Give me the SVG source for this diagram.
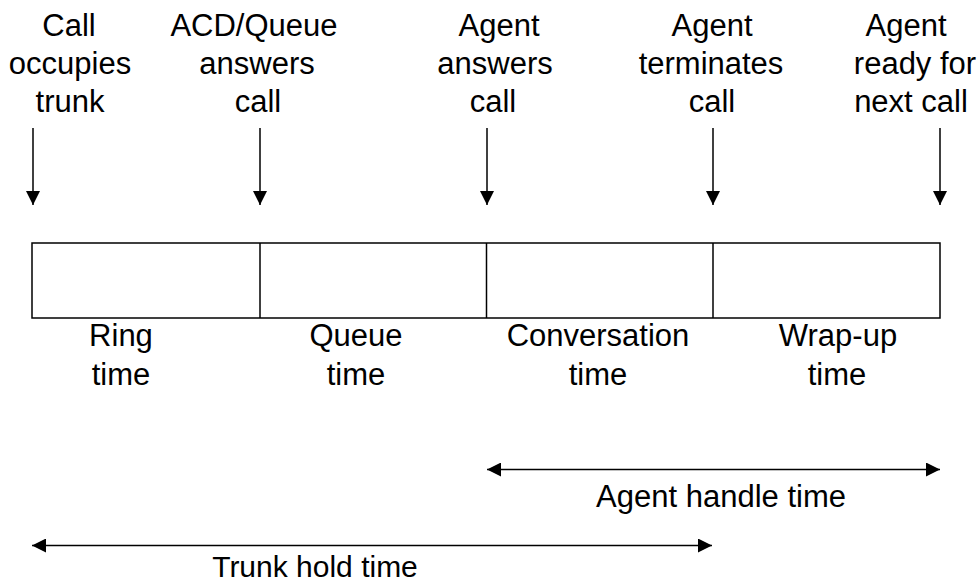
<svg xmlns="http://www.w3.org/2000/svg" width="980" height="584" viewBox="0 0 980 584">
  <style>
    text { font-family: "Liberation Sans", Arial, sans-serif; font-size: 31px; fill: #000; text-anchor: middle; }
    .ln { stroke: #000; stroke-width: 1.5; fill: none; }
    .box { stroke: #000; stroke-width: 1.5; fill: #fff; }
  </style>
  <defs>
    <marker id="head" viewBox="0 0 14 14" refX="14" refY="7" markerWidth="14" markerHeight="14" markerUnits="userSpaceOnUse" orient="auto-start-reverse">
      <path d="M0,0 L14,7 L0,14 Z" fill="#000"/>
    </marker>
  </defs>
  <rect width="980" height="584" fill="#fff"/>

  <!-- event labels along the top -->
  <g id="evt-trunk">
    <text x="69" y="36">Call</text>
    <text x="70" y="74">occupies</text>
    <text x="70" y="112">trunk</text>
  </g>
  <g id="evt-acd">
    <text x="254" y="36">ACD/Queue</text>
    <text x="257" y="74">answers</text>
    <text x="258" y="112">call</text>
  </g>
  <g id="evt-answer">
    <text x="499" y="36">Agent</text>
    <text x="495" y="74">answers</text>
    <text x="493" y="112">call</text>
  </g>
  <g id="evt-terminate">
    <text x="712" y="36">Agent</text>
    <text x="711" y="74">terminates</text>
    <text x="712" y="112">call</text>
  </g>
  <g id="evt-ready">
    <text x="906" y="36">Agent</text>
    <text x="915" y="74">ready for</text>
    <text x="911" y="112">next call</text>
  </g>

  <!-- timeline segments -->
  <g id="timeline">
    <rect class="box" x="32" y="243" width="908" height="75"/>
    <line class="ln" x1="260" y1="243" x2="260" y2="318"/>
    <line class="ln" x1="486.5" y1="243" x2="486.5" y2="318"/>
    <line class="ln" x1="713" y1="243" x2="713" y2="318"/>
  </g>
  <g id="seg-ring">
    <text x="121" y="346">Ring</text>
    <text x="121" y="385">time</text>
  </g>
  <g id="seg-queue">
    <text x="356" y="346">Queue</text>
    <text x="356" y="385">time</text>
  </g>
  <g id="seg-conversation">
    <text x="598" y="346">Conversation</text>
    <text x="598" y="385">time</text>
  </g>
  <g id="seg-wrapup">
    <text x="838" y="346">Wrap-up</text>
    <text x="837" y="385">time</text>
  </g>

  <!-- durations -->
  <g id="dur-handle">
    <text x="721" y="507">Agent handle time</text>
  </g>
  <g id="dur-trunk">
    <text x="315" y="577" style="font-size:30px">Trunk hold time</text>
  </g>

  <!-- connectors -->
  <g id="connectors">
    <line class="ln" x1="33" y1="128" x2="33" y2="205" marker-end="url(#head)"/>
    <line class="ln" x1="260" y1="128" x2="260" y2="205" marker-end="url(#head)"/>
    <line class="ln" x1="487" y1="128" x2="487" y2="205" marker-end="url(#head)"/>
    <line class="ln" x1="713" y1="128" x2="713" y2="205" marker-end="url(#head)"/>
    <line class="ln" x1="940" y1="128" x2="940" y2="205" marker-end="url(#head)"/>
    <line class="ln" x1="487" y1="469.5" x2="940" y2="469.5" marker-start="url(#head)" marker-end="url(#head)"/>
    <line class="ln" x1="32" y1="545.5" x2="712" y2="545.5" marker-start="url(#head)" marker-end="url(#head)"/>
  </g>
</svg>
